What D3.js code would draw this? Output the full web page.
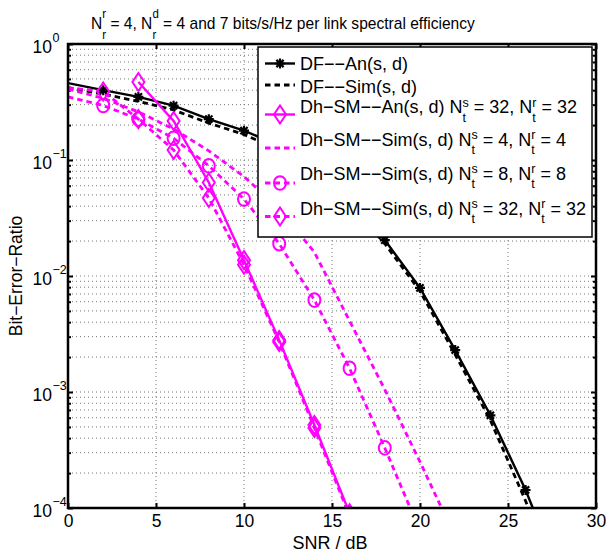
<!DOCTYPE html>
<html><head><meta charset="utf-8">
<script src="https://cdn.jsdelivr.net/npm/d3@7"></script>
<style>
body{margin:0;background:#fff}
svg{display:block}
text{font-family:"Liberation Sans",Arial,Helvetica,sans-serif;fill:#000;white-space:pre}
</style>
</head><body>
<svg id="c" width="606" height="553"></svg>
<script>
// ---------------- data ----------------
const snrDF      = [0,2,4,6,8,10,12,14,16,18,20,22,24,26,28];
const berDFAn    = [0.46,0.40,0.35,0.294,0.225,0.179,0.133,0.088,0.045,0.0204,0.0079,0.0023,6.3e-4,1.43e-4,2.5e-5];
const berDFSim   = [0.42,0.37,0.32,0.27,0.208,0.166,0.122,0.081,0.042,0.019,0.0074,0.0021,5.7e-4,1.15e-4,2.0e-5];
const snrAn32    = [4,6,8,10,12,14,16];
const berAn32    = [0.47,0.217,0.064,0.0137,0.0028,5.2e-4,9.0e-5];
const snrSim4    = [0,2,4,6,8,10,12,14,16,18,20,22];
const berSim4    = [0.41,0.34,0.26,0.185,0.12,0.072,0.038,0.016,0.0041,0.00105,2.5e-4,5.6e-5];
const snrSim8    = [0,2,4,6,8,10,12,14,16,18,20];
const berSim8    = [0.35,0.295,0.225,0.154,0.089,0.046,0.019,0.0062,0.0016,3.3e-4,6.3e-5];
const snrSim32   = [0,2,4,6,8,10,12,14,16];
const berSim32   = [0.42,0.39,0.225,0.122,0.047,0.0125,0.0027,4.9e-4,8.5e-5];
const xTicks     = [0,5,10,15,20,25,30];
const yDecades   = [-4,-3,-2,-1,0];
const legendLabels = [
  ["DF\u2212\u2212An(s, d)"],
  ["DF\u2212\u2212Sim(s, d)"],
  ["Dh\u2212SM\u2212\u2212An(s, d) N",{sup:"s",sub:"t"}," = 32, N",{sup:"r",sub:"t"}," = 32"],
  ["Dh\u2212SM\u2212\u2212Sim(s, d) N",{sup:"s",sub:"t"}," = 4, N",{sup:"r",sub:"t"}," = 4"],
  ["Dh\u2212SM\u2212\u2212Sim(s, d) N",{sup:"s",sub:"t"}," = 8, N",{sup:"r",sub:"t"}," = 8"],
  ["Dh\u2212SM\u2212\u2212Sim(s, d) N",{sup:"s",sub:"t"}," = 32, N",{sup:"r",sub:"t"}," = 32"]
];
const titleParts = ["N",{sup:"r",sub:"r"}," = 4, N",{sup:"d",sub:"r"}," = 4 and 7 bits/s/Hz per link spectral efficiency"];
const xLabel = "SNR / dB";
const yLabel = "Bit\u2212Error\u2212Ratio";

// ---------------- layout ----------------
const L=68, R=596, T=44, B=508;
const MAG="#ff00ff";
const svg=d3.select("#c");
svg.append("rect").attr("width",606).attr("height",553).attr("fill","#fff");
const x=d3.scaleLinear().domain([0,30]).range([L,R]);
const y=d3.scaleLog().domain([1e-4,1]).range([B,T]);

function rich(g,x0,y0,parts,fs,anchor,supDy,subDy,sfs,targetW){
  const outer=g.append("g");
  const grp=outer.append("g");
  let cx=0;
  parts.forEach(p=>{
    if(typeof p==="string"){
      const t=grp.append("text").attr("x",cx).attr("y",0).attr("font-size",fs).attr("xml:space","preserve").text(p);
      cx+=t.node().getComputedTextLength();
    } else {
      let w=0;
      if(p.sup){const t=grp.append("text").attr("x",cx).attr("y",supDy).attr("font-size",sfs).text(p.sup);w=Math.max(w,t.node().getComputedTextLength());}
      if(p.sub){const t=grp.append("text").attr("x",cx).attr("y",subDy).attr("font-size",sfs).text(p.sub);w=Math.max(w,t.node().getComputedTextLength());}
      cx+=w;
    }
  });
  const sx=targetW?targetW/cx:1;
  const wid=cx*sx;
  const off=anchor==="middle"?-wid/2:anchor==="end"?-wid:0;
  grp.attr("transform",`scale(${sx},1)`);
  outer.attr("transform",`translate(${x0+off},${y0})`);
  return wid;
}

// grid
const grid=svg.append("g").attr("stroke","#777").attr("stroke-width",1).attr("stroke-dasharray","1,3");
xTicks.slice(1,-1).forEach(v=>grid.append("line").attr("x1",x(v)).attr("x2",x(v)).attr("y1",T).attr("y2",B));
y.ticks().filter(v=>v>1e-4*1.001 && v<0.999).forEach(v=>grid.append("line").attr("x1",L).attr("x2",R).attr("y1",y(v)).attr("y2",y(v)));

// axes ticks
const majorY=yDecades.map(k=>Math.pow(10,k));
const minorY=y.ticks().filter(v=>!majorY.some(m=>Math.abs(m-v)/m<1e-6));
function styleAx(g){g.select(".domain").remove();g.selectAll(".tick line").attr("stroke","#000").attr("stroke-width",2);}
svg.append("g").attr("transform",`translate(0,${B})`).call(d3.axisBottom(x).tickValues(xTicks).tickSize(-5).tickSizeOuter(0).tickPadding(7).tickFormat(d3.format("d"))).call(styleAx)
  .selectAll("text").attr("font-size",17.5).attr("font-family","Liberation Sans, Arial, sans-serif");
svg.append("g").attr("transform",`translate(0,${T})`).call(d3.axisTop(x).tickValues(xTicks).tickSize(-5).tickSizeOuter(0).tickFormat("")).call(styleAx);
svg.append("g").attr("transform",`translate(${L},0)`).call(d3.axisLeft(y).tickValues(majorY).tickSize(-5).tickSizeOuter(0).tickFormat("")).call(styleAx);
svg.append("g").attr("transform",`translate(${R},0)`).call(d3.axisRight(y).tickValues(majorY).tickSize(-5).tickSizeOuter(0).tickFormat("")).call(styleAx);
svg.append("g").attr("transform",`translate(${L},0)`).call(d3.axisLeft(y).tickValues(minorY).tickSize(-3).tickSizeOuter(0).tickFormat("")).call(styleAx);
svg.append("g").attr("transform",`translate(${R},0)`).call(d3.axisRight(y).tickValues(minorY).tickSize(-3).tickSizeOuter(0).tickFormat("")).call(styleAx);

// y tick labels 10^k
yDecades.forEach(k=>{
  const yy=y(Math.pow(10,k));
  svg.append("text").attr("x",52).attr("y",yy+9).attr("text-anchor","end").attr("font-size",17.5).text("10");
  svg.append("text").attr("x",52.5).attr("y",yy-2).attr("font-size",12.5).text(k<0?"\u2212"+(-k):String(k));
});

// curves
svg.append("clipPath").attr("id","pc").append("rect").attr("x",L).attr("y",T).attr("width",R-L).attr("height",B-T);
const plot=svg.append("g").attr("clip-path","url(#pc)");
const line=d3.line().x(d=>x(d[0])).y(d=>y(d[1]));
function zip(a,b){return a.map((v,i)=>[v,b[i]]);}
function curve(xs,ys,color,dash,w){
  plot.append("path").datum(zip(xs,ys)).attr("d",line).attr("fill","none").attr("stroke",color)
    .attr("stroke-width",w).attr("stroke-dasharray",dash||null);
}
function asterisk(g,cx,cy){
  const r=5,d=3.6;
  const p=`M${cx-r},${cy}L${cx+r},${cy}M${cx},${cy-r}L${cx},${cy+r}M${cx-d},${cy-d}L${cx+d},${cy+d}M${cx-d},${cy+d}L${cx+d},${cy-d}`;
  g.append("path").attr("d",p).attr("stroke","#000").attr("stroke-width",2.2).attr("fill","none");
}
function diamond(g,cx,cy){
  g.append("path").attr("d",`M${cx},${cy-9}L${cx+6},${cy}L${cx},${cy+9}L${cx-6},${cy}Z`)
   .attr("fill","none").attr("stroke",MAG).attr("stroke-width",2);
}
function circ(g,cx,cy){
  g.append("ellipse").attr("cx",cx).attr("cy",cy).attr("rx",6).attr("ry",6.8)
   .attr("fill","none").attr("stroke",MAG).attr("stroke-width",2);
}
const DASH="5.5,4";
curve(snrDF,berDFSim,"#000",DASH,2.8);
curve(snrDF,berDFAn,"#000",null,2.4);
curve(snrSim4,berSim4,MAG,DASH,2.8);
curve(snrSim8,berSim8,MAG,DASH,2.8);
curve(snrSim32,berSim32,MAG,DASH,2.8);
curve(snrAn32,berAn32,MAG,null,2.4);
zip(snrDF,berDFAn).filter(d=>d[0]>0).forEach(d=>asterisk(plot,x(d[0]),y(d[1])));
zip(snrSim8,berSim8).filter(d=>d[0]>0).forEach(d=>circ(plot,x(d[0]),y(d[1])));
zip(snrSim32,berSim32).filter(d=>d[0]>0).forEach(d=>diamond(plot,x(d[0]),y(d[1])));
zip(snrAn32,berAn32).forEach(d=>diamond(plot,x(d[0]),y(d[1])));

// border
svg.append("rect").attr("x",L).attr("y",T).attr("width",R-L).attr("height",B-T).attr("fill","none").attr("stroke","#000").attr("stroke-width",2.5);

// legend
const lg=svg.append("g");
lg.append("rect").attr("x",258).attr("y",47).attr("width",334).attr("height",190).attr("fill","#fff").attr("stroke","#000").attr("stroke-width",1.5);
const rowLine=[63.5,85,114.5,148,183,216.5];
const rowText=[70,92.5,113.3,146,180,215];
const rowStyle=[
  {c:"#000",dash:null,m:"ast"},{c:"#000",dash:DASH,m:null},{c:MAG,dash:null,m:"dia"},
  {c:MAG,dash:DASH,m:null},{c:MAG,dash:DASH,m:"cir"},{c:MAG,dash:DASH,m:"dia"}];
rowStyle.forEach((s,i)=>{
  const ly=rowLine[i];
  lg.append("line").attr("x1",265).attr("x2",295).attr("y1",ly).attr("y2",ly).attr("stroke",s.c)
    .attr("stroke-width",s.dash?2.8:2.4).attr("stroke-dasharray",s.dash);
  if(s.m==="ast")asterisk(lg,280,ly);
  if(s.m==="dia")diamond(lg,280,ly);
  if(s.m==="cir")circ(lg,280,ly);
  rich(lg,300,rowText[i],legendLabels[i],18,"start",-6.7,8.3,12.5);
});

// title and labels
rich(svg,283,29.3,titleParts,17,"middle",-11,10,12.5,384);
svg.append("text").attr("x",330).attr("y",549).attr("text-anchor","middle").attr("font-size",18).text(xLabel);
svg.append("text").attr("transform",`translate(22,${(T+B)/2}) rotate(-90)`).attr("text-anchor","middle").attr("font-size",17.5).text(yLabel);
</script>
</body></html>
